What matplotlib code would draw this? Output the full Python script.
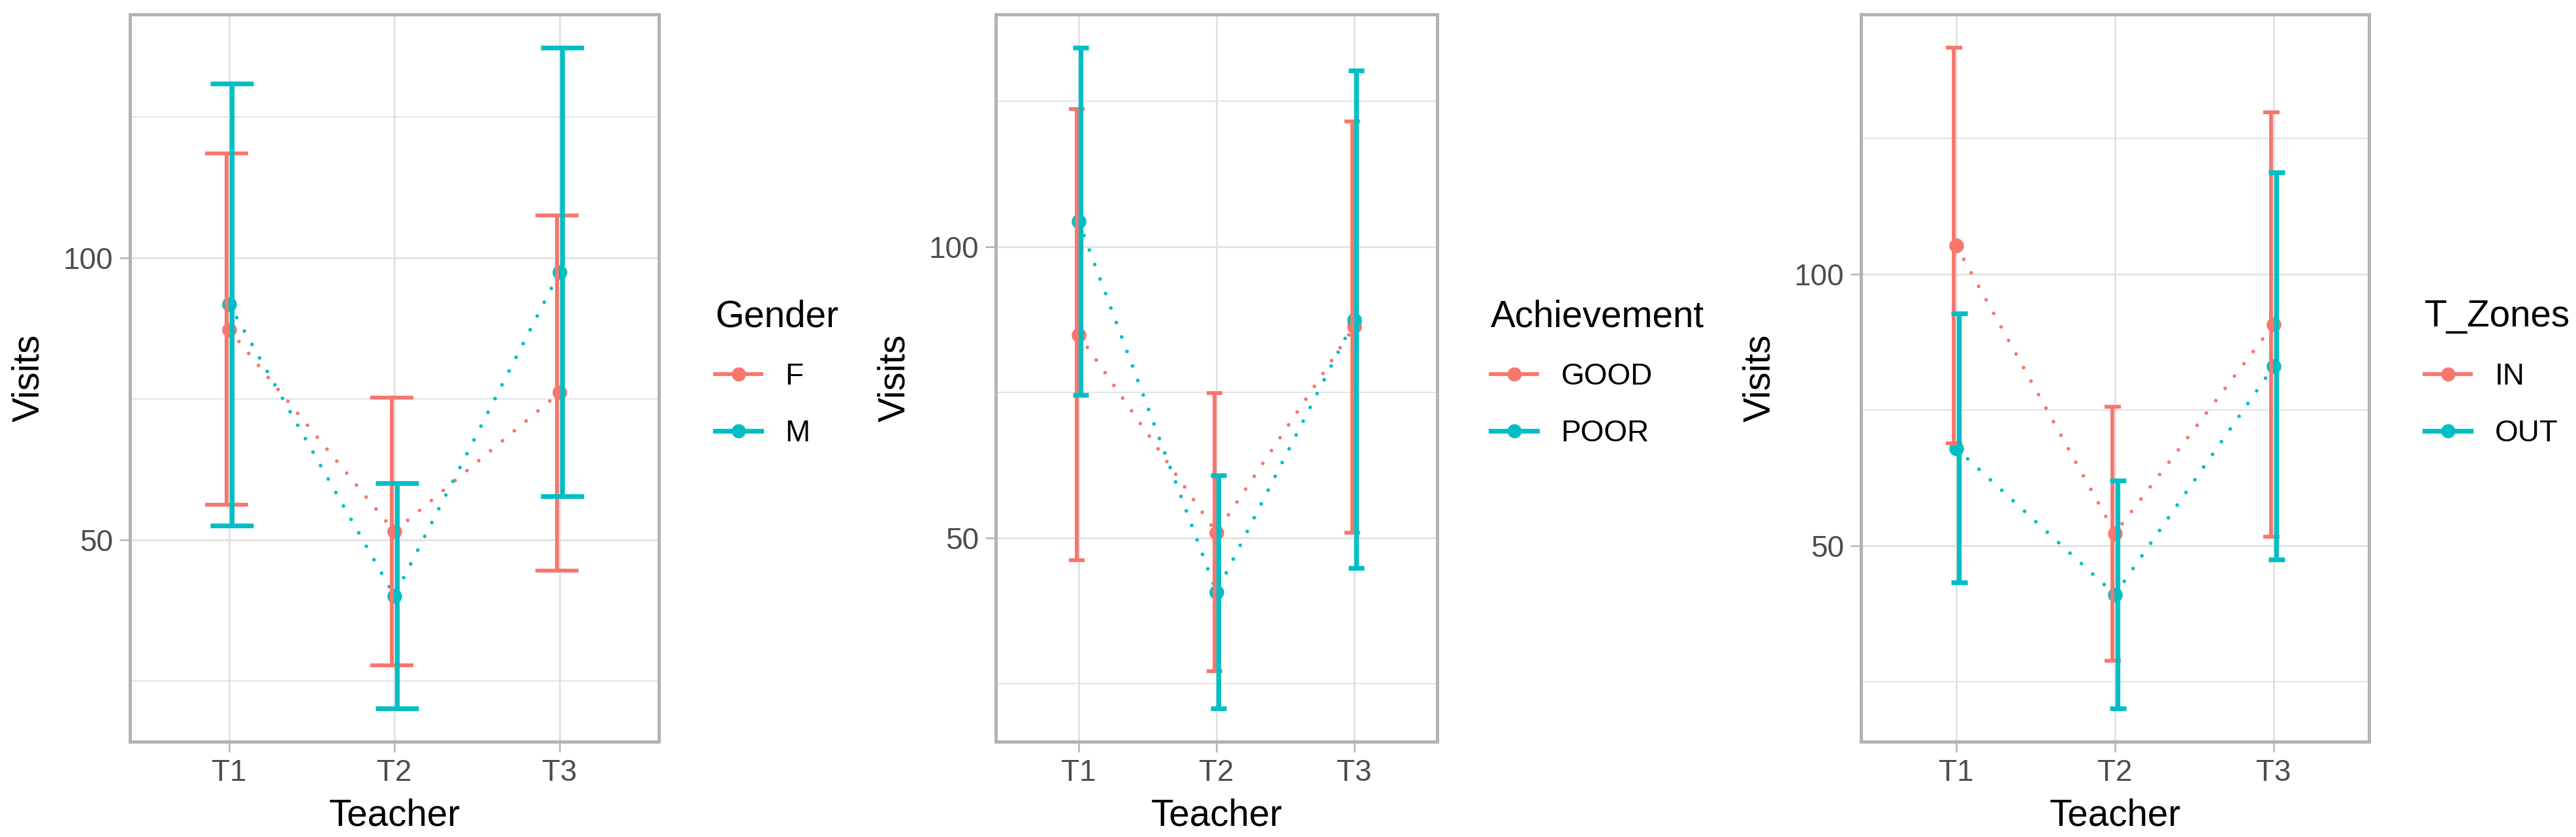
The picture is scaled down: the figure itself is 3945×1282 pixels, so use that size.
import matplotlib
matplotlib.use("Agg")
import matplotlib.pyplot as plt
from matplotlib.lines import Line2D
import numpy as np

plt.rcParams["font.family"] = ["Liberation Sans", "DejaVu Sans"]

teachers = ["T1", "T2", "T3"]

# panel 1: Gender
genderNames = ["F", "M"]
genderMean = [[87.3, 51.5, 76.1], [91.8, 40.1, 97.5]]
genderLow = [[56.2, 27.8, 44.6], [52.6, 20.1, 57.8]]
genderHigh = [[118.5, 75.2, 107.5], [130.9, 60.1, 137.3]]

# panel 2: Achievement
achNames = ["GOOD", "POOR"]
achMean = [[84.9, 50.9, 86.3], [104.4, 40.7, 87.4]]
achLow = [[46.2, 27.1, 50.9], [74.5, 20.7, 44.8]]
achHigh = [[123.6, 74.9, 121.5], [134.2, 60.8, 130.2]]

# panel 3: T_Zones
zoneNames = ["IN", "OUT"]
zoneMean = [[105.2, 52.3, 90.7], [67.9, 41.0, 83.0]]
zoneLow = [[68.8, 28.8, 51.7], [43.2, 20.0, 47.4]]
zoneHigh = [[141.7, 75.6, 129.7], [92.7, 62.0, 118.7]]

colors = ["#F8766D", "#00BFC4"]
lineWidths = [1.4, 1.75]
W, H = 3945, 1282


def drawPanel(fig, rect, title, names, means, lows, highs, capsize, legendX):
	ax = fig.add_axes(rect)
	x = np.arange(1, len(teachers) + 1)
	dodge = [-0.015, 0.015]
	for i in range(len(names)):
		m = np.array(means[i])
		lo = np.array(lows[i])
		hi = np.array(highs[i])
		ax.plot(x, m, color=colors[i], lw=1.35, linestyle=(0, (0.01, 4.2)),
				dash_capstyle="round", zorder=3)
		ax.plot(x, m, "o", color=colors[i], ms=5.4, mew=0, zorder=4)
		ax.errorbar(x + dodge[i], m, yerr=[m - lo, hi - m], fmt="none",
					ecolor=colors[i], elinewidth=lineWidths[i], capsize=capsize,
					capthick=lineWidths[i], zorder=5)

	allLow = min(min(l) for l in lows)
	allHigh = max(max(h) for h in highs)
	pad = (allHigh - allLow) * 0.05
	ax.set_ylim(allLow - pad, allHigh + pad)
	ax.set_xlim(0.4, len(teachers) + 0.6)
	ax.set_xticks(x)
	ax.set_xticklabels(teachers)
	ax.set_yticks([50, 100])
	ax.set_yticks([25, 75, 125], minor=True)
	ax.tick_params(axis="both", which="major", length=3.8, width=0.6,
				   color="#B3B3B3", labelcolor="#4D4D4D", labelsize=11, pad=2.4)
	ax.tick_params(axis="y", which="minor", length=0)
	ax.grid(True, which="major", color="#DEDEDE", lw=0.6, zorder=0)
	ax.grid(True, which="minor", axis="y", color="#DEDEDE", lw=0.4, zorder=0)
	ax.set_axisbelow(True)
	for s in ax.spines.values():
		s.set_color("#B3B3B3")
		s.set_linewidth(1.2)
	ax.set_xlabel("Teacher", fontsize=13.6, labelpad=4)
	ax.set_ylabel("Visits", fontsize=13.6, labelpad=6)

	handles = [Line2D([0], [0], color=colors[i], lw=lineWidths[i], marker="o",
					  ms=5.2, mew=0) for i in range(len(names))]
	ax.legend(handles, names, title=title, loc="upper left",
			  bbox_to_anchor=(legendX / W, 1 - 458 / H),
			  bbox_transform=fig.transFigure, frameon=False, borderpad=0,
			  borderaxespad=0, alignment="left", handlelength=1.55,
			  handletextpad=0.8, labelspacing=0.94, fontsize=11,
			  title_fontsize=13.6)
	return ax


fig = plt.figure(figsize=(W / 300, H / 300), dpi=300)
bottom = 1 - 1136 / H
height = (1136 - 22) / H

drawPanel(fig, [199 / W, bottom, 810 / W, height], "Gender",
		  genderNames, genderMean, genderLow, genderHigh, 7.9, 1095)
drawPanel(fig, [1525 / W, bottom, 676 / W, height], "Achievement",
		  achNames, achMean, achLow, achHigh, 2.8, 2283)
drawPanel(fig, [2850 / W, bottom, 778 / W, height], "T_Zones",
		  zoneNames, zoneMean, zoneLow, zoneHigh, 3.0, 3713)

plt.savefig("out.png", dpi=300)
